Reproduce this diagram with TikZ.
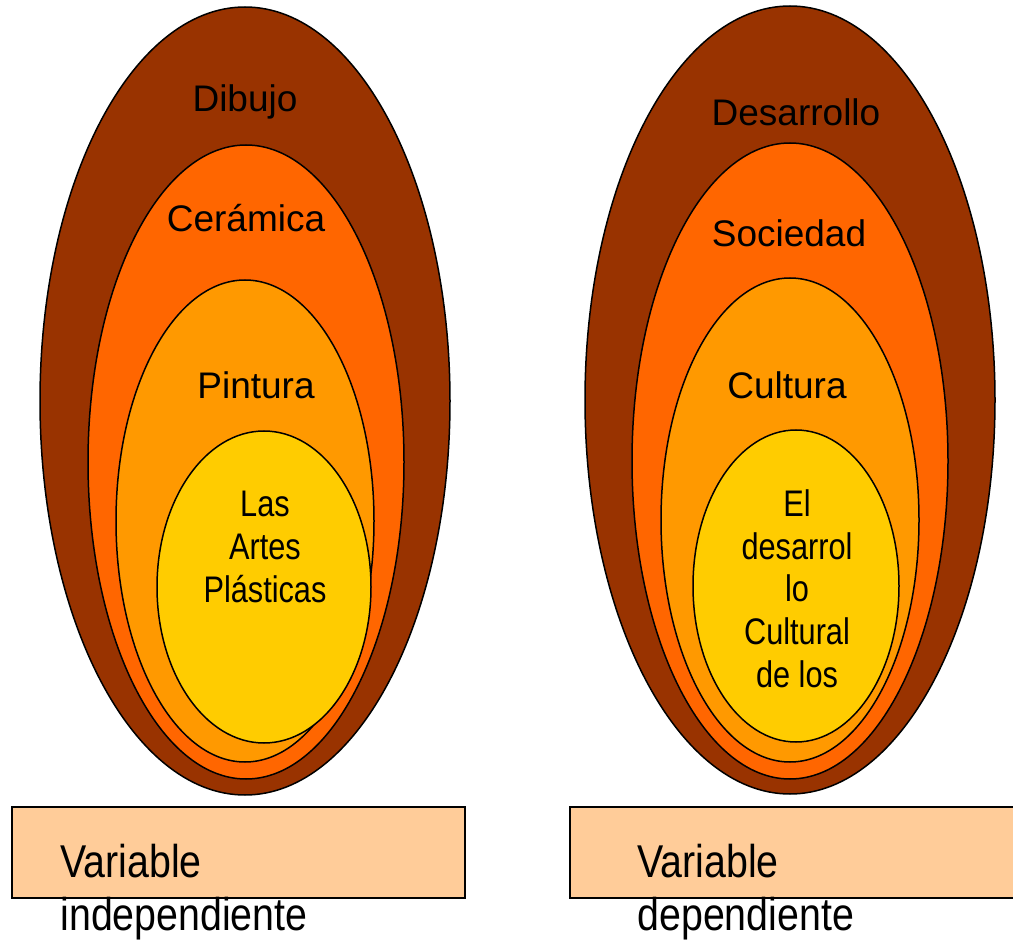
\documentclass[tikz,border=0pt]{standalone}
\usepackage{fontspec}
\setmainfont{Liberation Sans}
\newfontfamily\narrowfont{Liberation Sans}[FakeStretch=0.83]
\newfontfamily\varfont{Liberation Sans}[FakeStretch=0.855]
\usepackage{tikz}

\definecolor{cafe}{HTML}{993300}
\definecolor{naranja}{HTML}{FF6600}
\definecolor{ambar}{HTML}{FF9900}
\definecolor{amarillo}{HTML}{FFCC00}
\definecolor{salmon}{HTML}{FFCC99}

\tikzset{
  capa/.style={draw=black,line width=0.75pt},
  rotulo/.style={font=\fontsize{18.5}{21}\selectfont,inner sep=0pt,anchor=base},
  nucleo/.style={font=\narrowfont\fontsize{18.5}{21.3}\selectfont,align=center,inner sep=0pt,anchor=base},
  etiquetavar/.style={font=\varfont\fontsize{23}{26.5}\selectfont,align=left,inner sep=0pt,anchor=base west}
}

\begin{document}
\begin{tikzpicture}[x=0.5pt,y=-0.5pt]
        \useasboundingbox (0,0) rectangle (1013,941);
        % izquierda
        \filldraw[capa,fill=cafe] (245,401) ellipse [x radius=205,y radius=394];
        \filldraw[capa,fill=naranja] (246,462) ellipse [x radius=158,y radius=317];
        \filldraw[capa,fill=ambar] (245,521) ellipse [x radius=129,y radius=241];
        \filldraw[capa,fill=amarillo] (264,587) ellipse [x radius=107,y radius=156];
        \node[rotulo] (dibujo) at (245,112) {Dibujo};
        \node[rotulo] (ceramica) at (246,232) {Cerámica};
        \node[rotulo] (pintura) at (256,399) {Pintura};
        \node[nucleo] (artes) at (265,602) {Las\\Artes\\Plásticas};
        % derecha
        \filldraw[capa,fill=cafe] (790,400) ellipse [x radius=205,y radius=394];
        \filldraw[capa,fill=naranja] (790,461) ellipse [x radius=158,y radius=318];
        \filldraw[capa,fill=ambar] (790,520) ellipse [x radius=129,y radius=242];
        \filldraw[capa,fill=amarillo] (796,586) ellipse [x radius=103,y radius=156];
        \node[rotulo] (desarrollo) at (796,126) {Desarrollo};
        \node[rotulo] (sociedad) at (789,247) {Sociedad};
        \node[rotulo] (cultura) at (787,399) {Cultura};
        \node[nucleo] (cultural) at (797,687) {El\\desarrol\\lo\\Cultural\\de los};
        % variables
        \filldraw[draw=black,line width=0.6pt,fill=salmon] (12,807) rectangle (465,898);
        \filldraw[draw=black,line width=0.6pt,fill=salmon] (570,807) rectangle (1016,898);
        \node[etiquetavar] (indep) at (60,930) {Variable\\independiente};
        \node[etiquetavar] (dep) at (637,930) {Variable\\dependiente};
\end{tikzpicture}
\end{document}
